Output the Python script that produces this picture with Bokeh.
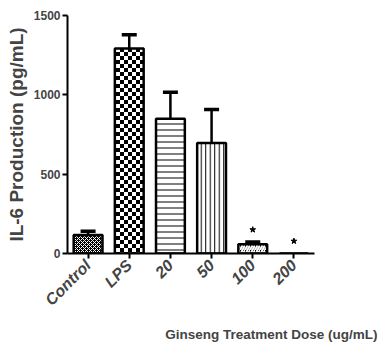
import math
from bokeh.plotting import figure
from bokeh.models import (FactorRange, Range1d, FixedTicker, Whisker, TeeHead,
                          Title, ColumnDataSource, CanvasTexture)
from bokeh.embed import file_html
from bokeh.resources import INLINE

# ---- data ----
categories = ["Control", "LPS", "20", "50", "100", "200"]
means = [116, 1292, 849, 697, 58, 0]
sem = [25, 86, 167, 210, 15, 0]
star_cats = ["100", "200"]
star_y = [150, 78]
y_ticks = [0, 500, 1000, 1500]
x_title = "Ginseng Treatment Dose (ug/mL)"
y_title = "IL-6 Production (pg/mL)"

# ---- styles ----
checker = CanvasTexture(code="""
var c = ctx.canvas;
c.width = 8;
c.height = 8;
var g = c.getContext("2d");
g.fillStyle = "white";
g.fillRect(0, 0, 8, 8);
g.fillStyle = "black";
g.fillRect(0, 0, 4, 4);
g.fillRect(4, 4, 4, 4);
""")

styles = {
    "Control": dict(fill_color="black", hatch_pattern="x", hatch_color="white",
                    hatch_scale=4, hatch_weight=1),
    "LPS": dict(fill_color="white", hatch_pattern="+", hatch_color="black",
                hatch_scale=8, hatch_weight=3, hatch_extra={"+": checker}),
    "20": dict(fill_color="white", hatch_pattern="-", hatch_color="black",
               hatch_scale=6, hatch_weight=1),
    "50": dict(fill_color="white", hatch_pattern="|", hatch_color="black",
               hatch_scale=4.5, hatch_weight=1),
    "100": dict(fill_color="black", hatch_pattern="/", hatch_color="white",
                hatch_scale=5, hatch_weight=2),
    "200": dict(fill_color="white"),
}

p = figure(x_range=FactorRange(*categories), y_range=Range1d(0, 1500),
           width=378, height=349, output_backend="svg", toolbar_location=None,
           min_border_left=67, min_border_right=64, min_border_top=15,
           min_border_bottom=96)
p.xgrid.visible = False
p.ygrid.visible = False
p.outline_line_color = None

for cat, m in zip(categories, means):
    p.vbar(x=[cat], top=[m], width=0.7, line_color="black", line_width=2.5,
           **styles[cat])

err_cats = [c for c, s in zip(categories, sem) if s > 0]
err_lo = [m for m, s in zip(means, sem) if s > 0]
err_hi = [m + s for m, s in zip(means, sem) if s > 0]
src = ColumnDataSource(dict(cat=err_cats, lo=err_lo, hi=err_hi))
w = Whisker(source=src, base="cat", lower="lo", upper="hi", dimension="height",
            line_width=2.5, line_color="black",
            upper_head=TeeHead(size=15, line_width=3.5, line_color="black"),
            lower_head=None)
p.add_layout(w)

p.scatter(x=star_cats, y=star_y, marker="star", size=6, color="black")

# axes
p.yaxis.ticker = FixedTicker(ticks=y_ticks)
p.yaxis.minor_tick_line_color = None
for ax in (p.xaxis[0], p.yaxis[0]):
    ax.axis_line_width = 2
    ax.major_tick_line_width = 2
    ax.major_tick_out = 5
    ax.major_tick_in = 0
p.yaxis.major_label_text_font = "Liberation Sans"
p.yaxis.major_label_text_font_style = "bold"
p.yaxis.major_label_text_font_size = "12px"
p.yaxis.major_label_standoff = 2
p.yaxis.axis_label = y_title
p.yaxis.axis_label_text_font = "Liberation Sans"
p.yaxis.axis_label_text_font_style = "bold"
p.yaxis.axis_label_text_font_size = "19px"
p.yaxis.axis_label_standoff = 4
p.xaxis.major_label_orientation = math.pi / 4
p.xaxis.major_label_text_font = "Liberation Sans"
p.xaxis.major_label_text_font_style = "bold italic"
p.xaxis.major_label_text_font_size = "16px"
p.xaxis.major_label_standoff = 4

p.add_layout(Title(text=x_title, align="right", offset=-63, standoff=14,
                   text_font="Liberation Sans", text_font_style="bold",
                   text_font_size="13.5px"), "below")

open("out.html", "w").write(file_html(p, INLINE))
